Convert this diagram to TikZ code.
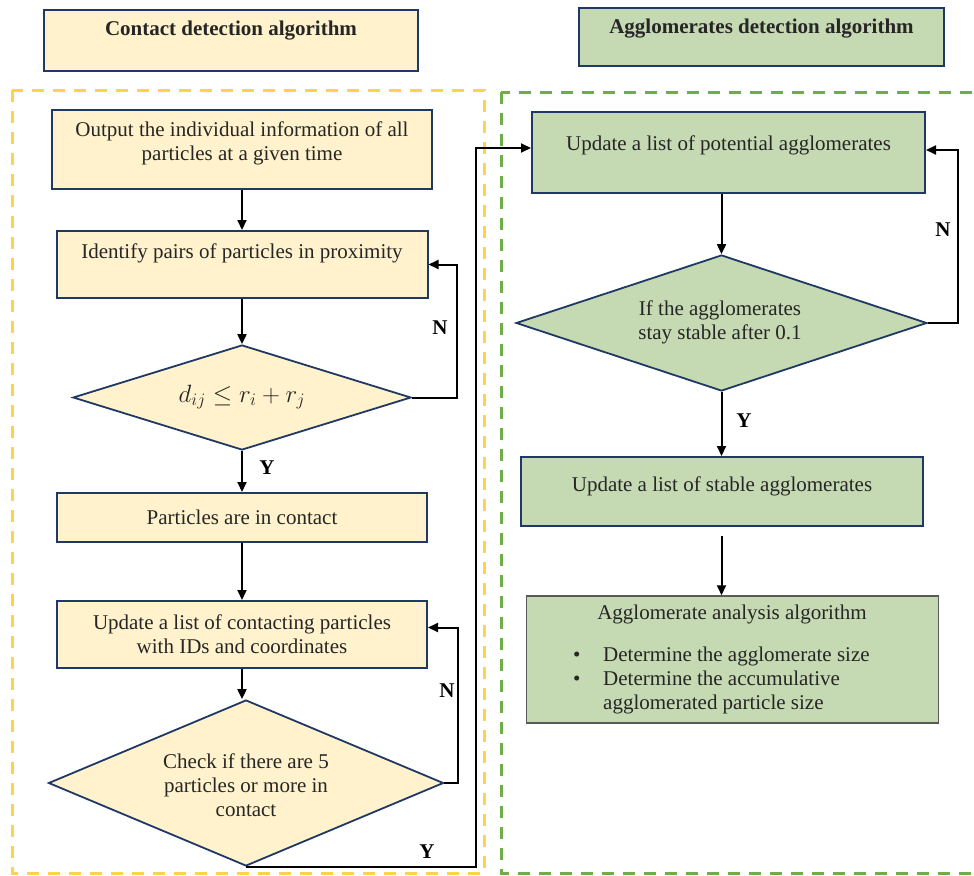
\RequirePackage{fix-cm}
\documentclass[tikz,border=0pt]{standalone}
\usepackage{fontspec}
\setmainfont{Liberation Serif}
\usetikzlibrary{shapes.geometric,arrows.meta,calc}
\definecolor{yfill}{HTML}{FFF2CC}
\definecolor{gfill}{HTML}{C5D9B2}
\definecolor{navy}{HTML}{1F3864}
\definecolor{ydash}{HTML}{FFD24D}
\definecolor{gdash}{HTML}{6FAD47}
\definecolor{gborder}{HTML}{595959}
\begin{document}
\begin{tikzpicture}[x=1pt,y=-1pt,
  font=\fontsize{21}{24}\selectfont,
  ybox/.style={draw=navy, line width=2pt, fill=yfill, inner sep=0pt},
  gbox/.style={draw=navy, line width=2pt, fill=gfill, inner sep=0pt},
  ydia/.style={diamond, draw=navy, line width=1.8pt, fill=yfill, inner sep=0pt},
  gdia/.style={diamond, draw=navy, line width=1.8pt, fill=gfill, inner sep=0pt},
  txt/.style={align=center, inner sep=0pt, text=black!85},
  arr/.style={line width=2pt, -{Triangle[length=10pt,width=9pt]}},
  lbl/.style={font=\fontsize{21}{24}\selectfont\bfseries, inner sep=0pt}]
\useasboundingbox (0,0) rectangle (974,875);

% group frames
\draw[ydash, line width=3pt, dash pattern=on 12pt off 9pt] (12,90) rectangle (484,873);
\draw[gdash, line width=3pt, dash pattern=on 12pt off 9pt] (501,92) rectangle (995,873);

% headers
\node[ybox, minimum width=374, minimum height=61] (h1) at (231,40.5) {};
\node[txt, font=\fontsize{21}{24}\selectfont\bfseries] (h1t) at (231,31) {Contact detection algorithm};
\node[gbox, minimum width=365, minimum height=58] (h2) at (761.5,37) {};
\node[txt, font=\fontsize{21}{24}\selectfont\bfseries] (h2t) at (761.5,29) {Agglomerates detection algorithm};

% left column
\node[ybox, minimum width=380, minimum height=79] (b1) at (242,149.5) {};
\node[txt] (b1t) at (242,143) {Output the individual information of all\\particles at a given time};
\node[ybox, minimum width=371, minimum height=67] (b2) at (242,264.5) {};
\node[txt] (b2t) at (242,253) {Identify pairs of particles in proximity};
\node[ydia, minimum width=338, minimum height=105] (d1) at (242,397.5) {};
\node[txt, font=\fontsize{25}{28}\selectfont] (d1t) at (242,397) {$d_{ij}\le r_i+r_j$};
\node[ybox, minimum width=370, minimum height=49] (b3) at (242,517.5) {};
\node[txt] (b3t) at (242,517) {Particles are in contact};
\node[ybox, minimum width=370, minimum height=67] (b4) at (242,634.5) {};
\node[txt] (b4t) at (242,634) {Update a list of contacting particles\\with IDs and coordinates};
\node[ydia, minimum width=395, minimum height=166] (d2) at (246,783) {};
\node[txt] (d2t) at (246,785.5) {Check if there are 5\\particles or more in\\contact};

% right column
\node[gbox, minimum width=393, minimum height=81] (b5) at (728.5,152.5) {};
\node[txt] (b5t) at (728.5,145) {Update a list of potential agglomerates};
\node[gdia, minimum width=411, minimum height=136] (d3) at (721.5,323) {};
\node[txt] (d3t) at (720,322) {If the agglomerates\\stay stable after 0.1};
\node[gbox, minimum width=402, minimum height=69] (b6) at (722,491.5) {};
\node[txt] (b6t) at (722,486) {Update a list of stable agglomerates};
\node[draw=gborder, line width=1.5pt, fill=gfill, inner sep=0pt, minimum width=412, minimum height=127] (b7) at (732.5,659.5) {};
\node[txt] (b7t) at (732,614) {Agglomerate analysis algorithm};
\node[txt, align=left, anchor=west] (b7l) at (573,680.5) {\makebox[30pt][l]{•}Determine the agglomerate size\\\makebox[30pt][l]{•}Determine the accumulative\\\makebox[30pt]{}agglomerated particle size};

% connectors
\draw[arr] (b1.south) -- (b2.north);
\draw[arr] (b2.south) -- (d1.north);
\draw[arr] (d1.south) -- (b3.north);
\draw[arr] (b3.south) -- (b4.north);
\draw[arr] (b4.south) -- (d2.north -| b4.south);
\draw[arr] (d1.east) -- ++(45,0) |- (b2.east);
\draw[arr] (d2.east) -- ++(14,0) |- ($(b4.east)+(0,-7)$);
\draw[arr] (d2.south) -- ++(230,0) |- ($(b5.west)+(0,-4.5)$);
\draw[arr] (b5.south -| d3.north) -- (d3.north);
\draw[arr] (d3.east) -- ++(30,0) |- ($(b5.east)+(0,-2.5)$);
\draw[arr] (d3.south) -- (d3.south |- b6.north);
\draw[arr, shorten <=9pt] (b6.south -| d3.south) -- (d3.south |- b7.north);

% labels
\node[lbl] (n1) at (440,328) {N};
\node[lbl] (y1) at (267,468) {Y};
\node[lbl] (n2) at (447,691) {N};
\node[lbl] (y2) at (427,852) {Y};
\node[lbl] (n3) at (943,230) {N};
\node[lbl] (y3) at (744,421) {Y};
\end{tikzpicture}
\end{document}
